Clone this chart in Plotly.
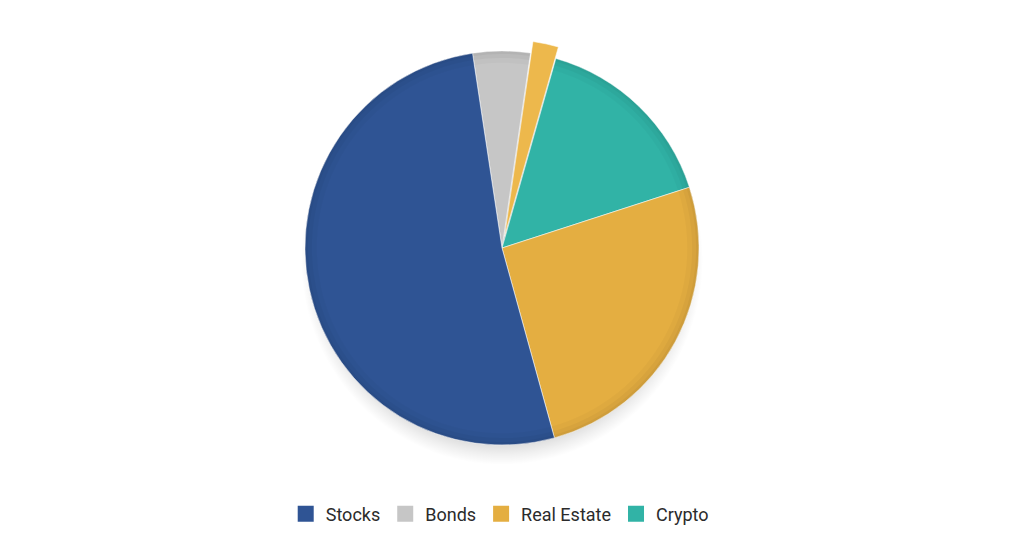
import numpy as np
import plotly.graph_objects as go

# ---- data (clockwise order, starting just left of 12 o'clock) ----
slice_labels = ["Bonds", "Other", "Crypto", "Real Estate", "Stocks"]
slice_values = [4.7, 2.1, 15.6, 25.7, 51.9]
slice_pull = [0, 0.06, 0, 0, 0]

legend_labels = ["Stocks", "Bonds", "Real Estate", "Crypto"]
palette = {
    "Stocks": "#2F5494",
    "Bonds": "#C6C6C6",
    "Real Estate": "#E4AE41",
    "Other": "#EDB84C",
    "Crypto": "#31B3A6",
}

W, H = 1024, 559
cx, cy, r = 502, 248, 197
maxpull = max(slice_pull)
box = 2 * r * (1 + maxpull)
pie_domain = dict(x=[0, 2 * cx / W],
                  y=[(H - (cy + box / 2)) / H, (H - (cy - box / 2)) / H])

fig = go.Figure()

# soft drop shadow under the pie (decoration)
t = np.linspace(0, 2 * np.pi, 200)
fig.add_trace(go.Scatter(
    x=cx + (r + 4) * np.cos(t), y=(H - cy - 12) + (r + 8) * np.sin(t),
    mode="lines", line=dict(width=0), fill="toself",
    fillgradient=dict(type="radial", colorscale=[
        [0.0, "rgba(0,0,0,0.22)"], [0.88, "rgba(0,0,0,0.16)"],
        [0.95, "rgba(0,0,0,0.06)"], [1.0, "rgba(0,0,0,0)"]]),
    hoverinfo="skip", showlegend=False,
))

fig.add_trace(go.Pie(
    labels=slice_labels,
    values=slice_values,
    pull=slice_pull,
    sort=False,
    direction="clockwise",
    rotation=-8.6,
    marker=dict(colors=[palette[l] for l in slice_labels],
                line=dict(color="rgba(255,255,255,0.55)", width=1)),
    textinfo="none",
    showlegend=False,
    domain=pie_domain,
))

# soft darker rim on the pie edge (decoration, not on the pulled slice)
for hole, alpha in [(0.94, 0.025), (0.965, 0.03), (0.985, 0.035)]:
    fig.add_trace(go.Pie(
        labels=slice_labels,
        values=slice_values,
        pull=slice_pull,
        sort=False,
        direction="clockwise",
        rotation=-8.6,
        hole=hole,
        marker=dict(colors=["rgba(0,0,0,0)" if p else "rgba(0,0,0,%g)" % alpha
                            for p in slice_pull],
                    line=dict(width=0)),
        textinfo="none",
        hoverinfo="skip",
        showlegend=False,
        domain=pie_domain,
    ))

for lab in legend_labels:
    fig.add_trace(go.Scatter(
        x=[None], y=[None], mode="markers", name=lab,
        marker=dict(symbol="square", size=16, color=palette[lab]),
    ))

fig.update_layout(
    width=W, height=H,
    margin=dict(l=0, r=0, t=0, b=0),
    paper_bgcolor="white", plot_bgcolor="white",
    xaxis=dict(visible=False, range=[0, W], fixedrange=True),
    yaxis=dict(visible=False, range=[0, H], fixedrange=True),
    showlegend=True,
    legend=dict(orientation="h", x=0.488, xanchor="center",
                y=(H - 514) / H, yanchor="middle",
                font=dict(family="Roboto", size=18, color="#2b2b2b"),
                itemsizing="trace", tracegroupgap=0),
    font=dict(family="Roboto"),
)

fig.write_html("out.html", config={"displayModeBar": False},
               post_script="document.body.style.margin='0';")
